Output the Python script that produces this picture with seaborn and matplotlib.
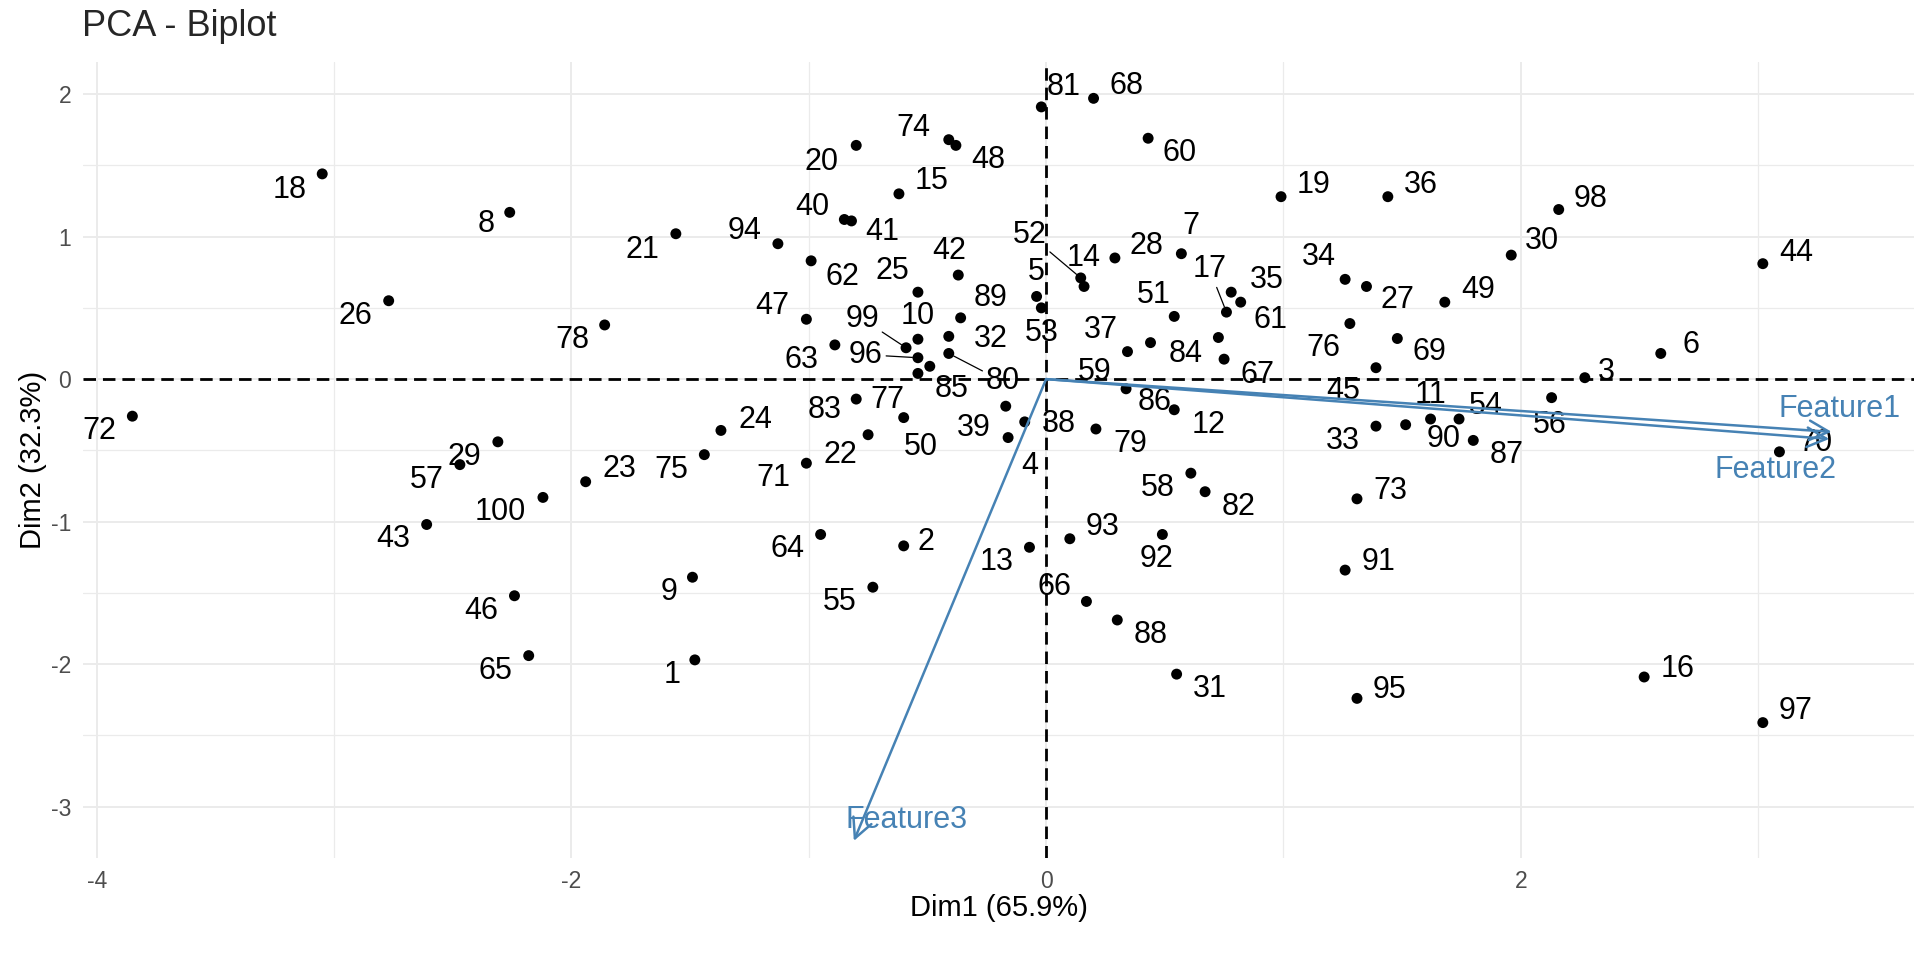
import matplotlib
matplotlib.use("Agg")
import matplotlib.pyplot as plt
import pandas as pd
import seaborn as sns

# -----------------------------
# DATA
# -----------------------------
ids = list(range(1, 101))
dim1 = [-1.48, -0.60, 2.27, -0.16, -0.04, 2.59, 0.57, -2.26, -1.49, -0.54,
        1.62, 0.54, -0.07, 0.16, -0.62, 2.52, 0.76, -3.05, 0.99, -0.80,
        -1.56, -0.75, -1.94, -1.37, -0.54, -2.77, 1.35, 0.29, -2.31, 1.96,
        0.55, -0.41, 1.39, 1.26, 0.78, 1.44, 0.44, -0.09, -0.17, -0.85,
        -0.82, -0.37, -2.61, 3.02, 1.39, -2.24, -1.01, -0.38, 1.68, -0.60,
        0.54, 0.146, -0.02, 1.74, -0.73, 2.13, -2.47, 0.61, 0.343, 0.43,
        0.82, -0.99, -0.89, -0.95, -2.18, 0.17, 0.75, 0.20, 1.48, 3.09,
        -1.01, -3.85, 1.31, -0.41, -1.44, 1.28, -0.54, -1.86, 0.21, -0.41,
        -0.02, 0.67, -0.80, 0.726, -0.49, 0.337, 1.80, 0.30, -0.36, 1.515,
        1.26, 0.49, 0.10, -1.13, 1.31, -0.54, 3.02, 2.16, -0.59, -2.12]
dim2 = [-1.97, -1.17, 0.01, -0.41, 0.58, 0.18, 0.88, 1.17, -1.39, 0.28,
        -0.28, -0.215, -1.18, 0.65, 1.30, -2.09, 0.47, 1.44, 1.28, 1.64,
        1.02, -0.39, -0.72, -0.36, 0.61, 0.55, 0.65, 0.85, -0.44, 0.87,
        -2.07, 0.30, -0.33, 0.70, 0.61, 1.28, 0.256, -0.30, -0.19, 1.12,
        1.11, 0.73, -1.02, 0.81, 0.08, -1.52, 0.42, 1.64, 0.54, -0.27,
        0.44, 0.71, 0.50, -0.28, -1.46, -0.13, -0.60, -0.66, 0.193, 1.69,
        0.54, 0.83, 0.24, -1.09, -1.94, -1.56, 0.14, 1.97, 0.285, -0.51,
        -0.59, -0.26, -0.84, 1.68, -0.53, 0.39, 0.04, 0.38, -0.35, 0.18,
        1.91, -0.79, -0.14, 0.292, 0.09, -0.068, -0.43, -1.69, 0.43, -0.32,
        -1.34, -1.09, -1.12, 0.95, -2.24, 0.15, -2.41, 1.19, 0.22, -0.83]

var_names = ["Feature1", "Feature2", "Feature3"]
var_dim1 = [3.31, 3.30, -0.81]
var_dim2 = [-0.37, -0.42, -3.24]

pct_dim1 = 65.9
pct_dim2 = 32.3

df = pd.DataFrame({"id": ids, "Dim1": dim1, "Dim2": dim2})

# -----------------------------
# LABEL PLACEMENT (offsets in pixels, like ggrepel did it)
# -----------------------------
label_pos = {
    1: "ll", 2: (22, 4), 3: (22, 6), 4: (22, -28), 5: (0, 24), 6: (30, 8),
    7: (10, 28), 8: (-24, -12), 9: "ll", 10: (0, 23), 11: (0, 24), 12: (34, -15),
    13: "ll", 14: (0, 28), 15: (33, 13), 16: "r", 17: (-17, 43), 18: (-33, -16),
    19: (33, 12), 20: (-35, -17), 21: (-33, -16), 22: (-28, -20), 23: (34, 13),
    24: (34, 10), 25: (-26, 21), 26: "ll", 27: (31, -14), 28: (32, 12), 29: "ll",
    30: (31, 14), 31: "lr", 32: (42, -3), 33: "ll", 34: (-26, 22), 35: (36, 12),
    36: (33, 12), 37: (-50, 13), 38: (34, -2), 39: (-32, -22), 40: (-32, 12),
    41: (31, -11), 42: (-9, 24), 43: "ll", 44: (33, 11), 45: (-33, -23), 46: "ll",
    47: (-34, 13), 48: (32, -15), 49: (33, 12), 50: (17, -29), 51: (-20, 21),
    52: (-51, 43), 53: (0, -25), 54: (27, 13), 55: "ll", 56: (-2, -27), 57: "ll",
    58: "ll", 59: (-33, -20), 60: (31, -15), 61: (30, -18), 62: (31, -16),
    63: (-33, -15), 64: "ll", 65: "ll", 66: (-32, 14), 67: (33, -16), 68: (33, 12),
    69: (32, -14), 70: (36, 9), 71: "ll", 72: "ll", 73: "r", 74: (-35, 12), 75: "ll",
    76: (-26, -24), 77: (-31, -27), 78: (-32, -15), 79: (34, -15), 80: (54, -28),
    81: (22, 20), 82: "lr", 83: (-32, -11), 84: (-33, -16), 85: (22, -23),
    86: (29, -13), 87: "lr", 88: "lr", 89: (30, 20), 90: (38, -14), 91: "r",
    92: (-6, -25), 93: "ur", 94: (-33, 13), 95: "r", 96: (-52, 3), 97: "ur",
    98: (32, 11), 99: (-44, 29), 100: "ll",
}
with_segment = {17, 52, 80, 96, 99}
var_label_pos = {"Feature1": (8, 23), "Feature2": (-54, -31), "Feature3": (53, 21)}


def offset_for(code, text):
    if not isinstance(code, str):
        return code
    w = 13 + 10 * len(text)
    return {"ll": (-w, -15), "lr": (w, -15), "ur": (w, 12), "r": (w, 8)}[code]


# -----------------------------
# PLOT
# -----------------------------
sns.set_theme(style="white")
plt.rcParams["font.family"] = ["Liberation Sans", "DejaVu Sans"]
plt.rcParams["axes.unicode_minus"] = False

fig = plt.figure(figsize=(19.2, 9.6), dpi=100)
ax = fig.add_axes([83 / 1920, 102 / 960, 1831 / 1920, 796 / 960])

ax.set_xlim(-4.058, 3.657)
ax.set_ylim(-3.36, 2.225)
ax.set_xticks([-4, -2, 0, 2])
ax.set_xticks([-3, -1, 1, 3], minor=True)
ax.set_yticks([-3, -2, -1, 0, 1, 2])
ax.set_yticks([-2.5, -1.5, -0.5, 0.5, 1.5], minor=True)
ax.grid(which="major", color="#EBEBEB", lw=1.4)
ax.grid(which="minor", color="#EBEBEB", lw=0.9)
ax.set_axisbelow(True)
for s in ax.spines.values():
    s.set_visible(False)
ax.tick_params(which="major", length=4.5, width=1.2, color="#333333",
               labelcolor="#4D4D4D", labelsize=16.5, pad=4)
ax.tick_params(which="minor", length=0)

ax.axhline(0, color="black", lw=2, ls=(0, (4.5, 2.5)), zorder=1)
ax.axvline(0, color="black", lw=2, ls=(0, (4.5, 2.5)), zorder=1)

sns.scatterplot(data=df, x="Dim1", y="Dim2", color="black", s=62,
                edgecolor="none", ax=ax, zorder=3)

for i, x, y in zip(ids, dim1, dim2):
    txt = str(i)
    dx, dy = offset_for(label_pos[i], txt)
    props = None
    if i in with_segment:
        props = dict(arrowstyle="-", color="black", lw=0.9, shrinkA=0, shrinkB=4)
    ax.annotate(txt, (x, y), xytext=(dx, dy), textcoords="offset pixels",
                ha="center", va="center", fontsize=22, color="black",
                arrowprops=props, zorder=4)

# variable arrows
for name, vx, vy in zip(var_names, var_dim1, var_dim2):
    ax.annotate("", xy=(vx, vy), xytext=(0, 0),
                arrowprops=dict(arrowstyle="->,head_length=0.7,head_width=0.35",
                                color="steelblue", lw=1.8, shrinkA=0, shrinkB=0,
                                mutation_scale=20), zorder=5)
    ax.annotate(name, (vx, vy), xytext=var_label_pos[name], textcoords="offset pixels",
                ha="center", va="center", fontsize=22, color="steelblue", zorder=6)

ax.set_xlabel(f"Dim1 ({pct_dim1}%)", fontsize=21, color="black", labelpad=1)
ax.set_ylabel(f"Dim2 ({pct_dim2}%)", fontsize=21, color="black", labelpad=3)
fig.text(82 / 1920, 1 - 27 / 960, "PCA - Biplot", fontsize=26, ha="left", va="center")

fig.savefig("out.png", dpi=100)
